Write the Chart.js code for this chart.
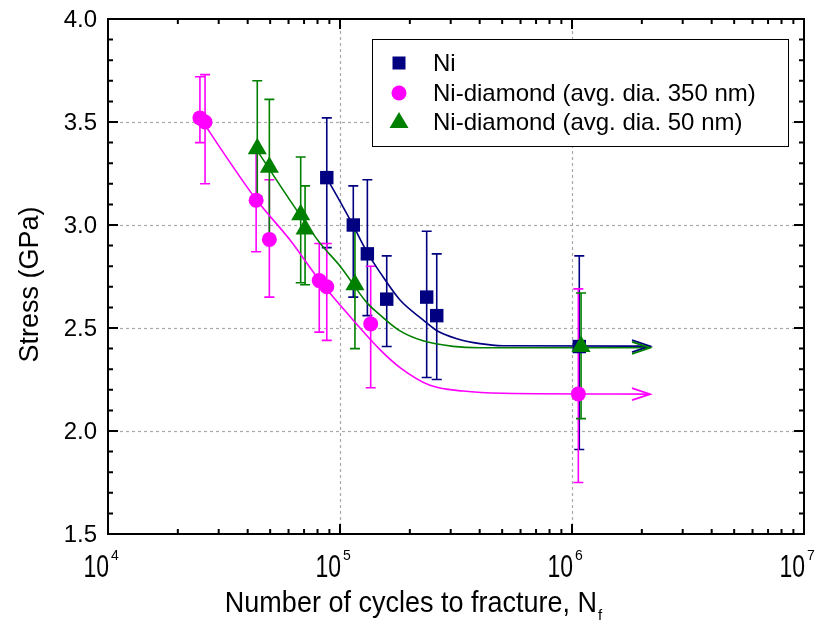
<!DOCTYPE html>
<html>
<head>
<meta charset="utf-8">
<script src="https://cdn.jsdelivr.net/npm/chart.js@4.4.0/dist/chart.umd.min.js"></script>
<style>
    body { margin: 0; background: #fff; }
    #wrap { width: 819px; height: 628px; }
</style>
</head>
<body>
<div id="wrap"><canvas id="fatigueChart" width="819" height="628"></canvas></div>
<script>
// Ni
const niCycles = [8.77e4, 1.141e5, 1.312e5, 1.590e5, 2.364e5, 2.612e5, 1.075e6];
const niStress = [3.23, 3.00, 2.86, 2.64, 2.65, 2.56, 2.41];
const niHigh   = [3.52, 3.19, 3.22, 2.85, 2.97, 2.86, 2.85];
const niLow    = [2.89, 2.65, 2.56, 2.41, 2.26, 2.25, 1.91];

// Ni-diamond 350 nm
const d350Cycles = [2.49e4, 2.62e4, 4.35e4, 4.96e4, 8.14e4, 8.77e4, 1.356e5, 1.065e6];
const d350Stress = [3.52, 3.50, 3.12, 2.93, 2.73, 2.70, 2.52, 2.18];
const d350High   = [3.72, 3.73, 3.35, 3.22, 2.91, 2.91, 2.80, 2.69];
const d350Low    = [3.40, 3.20, 2.87, 2.65, 2.48, 2.44, 2.21, 1.75];

// Ni-diamond 50 nm
const d50Cycles = [4.40e4, 4.96e4, 6.77e4, 7.07e4, 1.160e5, 1.094e6];
const d50Stress = [3.37, 3.28, 3.05, 2.98, 2.71, 2.41];
const d50High   = [3.70, 3.61, 3.33, 3.19, 3.00, 2.67];
const d50Low    = [3.14, 2.92, 2.72, 2.71, 2.40, 2.06];

// fitted curves
const niFitCycles  = [8.79e4, 1.0e5, 1.138e5, 1.308e5, 1.487e5, 1.814e5, 2.279e5, 2.645e5, 3.194e5, 4.012e5, 5.04e5, 2.169e6];
const niFitStress  = [3.226, 3.115, 2.999, 2.868, 2.770, 2.636, 2.540, 2.484, 2.448, 2.424, 2.414, 2.412];
const d350FitCycles = [2.543e4, 3.357e4, 4.345e4, 6.09e4, 8.20e4, 1.0e5, 1.487e5, 1.814e5, 2.443e5, 3.391e5, 5.04e5, 2.169e6];
const d350FitStress = [3.507, 3.304, 3.125, 2.927, 2.728, 2.612, 2.395, 2.308, 2.222, 2.194, 2.183, 2.179];
const d50FitCycles = [4.39e4, 5.97e4, 8.20e4, 1.0e5, 1.308e5, 1.487e5, 1.814e5, 2.279e5, 3.07e5, 4.012e5, 2.169e6];
const d50FitStress = [3.362, 3.134, 2.912, 2.801, 2.622, 2.564, 2.486, 2.438, 2.411, 2.404, 2.404];

// axis ticks
const xExponents = [4, 5, 6, 7];
const yTicks = [1.5, 2.0, 2.5, 3.0, 3.5, 4.0];

const NAVY = '#000080', MAGENTA = '#ff00ff', GREEN = '#008000';
const FONT = '"Liberation Sans", Arial, sans-serif';

function pts(xs, ys) {
    return xs.map((x, i) => ({ x: x, y: ys[i] }));
}

const errorSets = [
    { x: niCycles, lo: niLow, hi: niHigh, color: NAVY },
    { x: d350Cycles, lo: d350Low, hi: d350High, color: MAGENTA },
    { x: d50Cycles, lo: d50Low, hi: d50High, color: GREEN }
];

const legendItems = [
    { text: 'Ni', style: 'rect', color: NAVY },
    { text: 'Ni-diamond (avg. dia. 350 nm)', style: 'circle', color: MAGENTA },
    { text: 'Ni-diamond (avg. dia. 50 nm)', style: 'triangle', color: GREEN }
];

const framePlugin = {
    id: 'frame',
    beforeDatasetsDraw(chart) {
        const ctx = chart.ctx;
        const xs = chart.scales.x, ys = chart.scales.y;
        const a = chart.chartArea;
        ctx.save();
        // dashed grid
        ctx.strokeStyle = '#a8a8a8';
        ctx.lineWidth = 1.2;
        ctx.setLineDash([3, 3]);
        [1e5, 1e6].forEach(v => {
            const px = Math.round(xs.getPixelForValue(v)) + 0.5;
            ctx.beginPath(); ctx.moveTo(px, a.top); ctx.lineTo(px, a.bottom); ctx.stroke();
        });
        yTicks.slice(1, -1).forEach(v => {
            const py = Math.round(ys.getPixelForValue(v)) + 0.5;
            ctx.beginPath(); ctx.moveTo(a.left, py); ctx.lineTo(a.right, py); ctx.stroke();
        });
        ctx.setLineDash([]);
        // error bars
        errorSets.forEach(s => {
            ctx.strokeStyle = s.color;
            ctx.lineWidth = 1.6;
            s.x.forEach((v, i) => {
                const px = xs.getPixelForValue(v);
                const top = ys.getPixelForValue(s.hi[i]);
                const bot = ys.getPixelForValue(s.lo[i]);
                ctx.beginPath();
                ctx.moveTo(px, top); ctx.lineTo(px, bot);
                ctx.moveTo(px - 5, top); ctx.lineTo(px + 5, top);
                ctx.moveTo(px - 5, bot); ctx.lineTo(px + 5, bot);
                ctx.stroke();
            });
        });
        ctx.restore();
    },
    afterDatasetsDraw(chart) {
        const ctx = chart.ctx;
        const xs = chart.scales.x, ys = chart.scales.y;
        const a = chart.chartArea;
        ctx.save();

        // arrow heads at the end of fitted curves
        [0, 1, 2].forEach(i => {
            const meta = chart.getDatasetMeta(i);
            const last = meta.data[meta.data.length - 1];
            ctx.strokeStyle = chart.data.datasets[i].borderColor;
            ctx.lineWidth = 1.8;
            ctx.beginPath();
            ctx.moveTo(last.x - 18, last.y - 6);
            ctx.lineTo(last.x, last.y);
            ctx.lineTo(last.x - 18, last.y + 6);
            ctx.stroke();
        });

        // frame
        ctx.strokeStyle = '#000';
        ctx.lineWidth = 2;
        ctx.strokeRect(a.left, a.top, a.right - a.left, a.bottom - a.top);

        // ticks, inward on all sides
        ctx.lineWidth = 2;
        for (let d = 4; d <= 6; d++) {
            for (let k = 1; k <= 9; k++) {
                const v = k * Math.pow(10, d);
                if (k === 1 && d === 4) continue;
                const px = xs.getPixelForValue(v);
                const len = k === 1 ? 10 : 5;
                ctx.beginPath();
                ctx.moveTo(px, a.bottom); ctx.lineTo(px, a.bottom - len);
                ctx.moveTo(px, a.top); ctx.lineTo(px, a.top + len);
                ctx.stroke();
            }
        }
        for (let t = 16; t < 40; t++) {
            const py = ys.getPixelForValue(t / 10);
            const len = t % 5 === 0 ? 10 : 5;
            ctx.beginPath();
            ctx.moveTo(a.left, py); ctx.lineTo(a.left + len, py);
            ctx.moveTo(a.right, py); ctx.lineTo(a.right - len, py);
            ctx.stroke();
        }

        // tick labels
        ctx.fillStyle = '#000';
        ctx.font = '24px ' + FONT;
        ctx.textAlign = 'right';
        ctx.textBaseline = 'middle';
        yTicks.forEach(v => {
            ctx.fillText(v.toFixed(1), a.left - 11, ys.getPixelForValue(v) + 1);
        });
        ctx.textBaseline = 'alphabetic';
        xExponents.forEach(e => {
            const px = xs.getPixelForValue(Math.pow(10, e));
            ctx.save();
            ctx.translate(px + 1, 577);
            ctx.scale(1, 1.35);
            ctx.font = '23px ' + FONT;
            ctx.textAlign = 'right';
            ctx.fillText('10', 0, 0);
            ctx.restore();
            ctx.font = '14px ' + FONT;
            ctx.textAlign = 'left';
            ctx.fillText(String(e), px + 3, 560);
        });

        // axis titles
        ctx.font = '27px ' + FONT;
        const main = 'Number of cycles to fracture, N';
        const w = ctx.measureText(main).width;
        ctx.font = '15px ' + FONT;
        const ws = ctx.measureText('f').width;
        const cx = 413;
        const x0 = cx - (w + ws) / 2;
        ctx.textAlign = 'left';
        ctx.save();
        ctx.translate(x0, 612);
        ctx.scale(1, 1.12);
        ctx.font = '27px ' + FONT;
        ctx.fillText(main, 0, 0);
        ctx.restore();
        ctx.font = '15px ' + FONT;
        ctx.fillText('f', x0 + w + 1, 620);

        ctx.save();
        ctx.translate(38, (a.top + a.bottom) / 2 + 8);
        ctx.rotate(-Math.PI / 2);
        ctx.font = '27px ' + FONT;
        ctx.textAlign = 'center';
        ctx.fillText('Stress (GPa)', 0, 0);
        ctx.restore();

        // legend
        const lx = 372.5, ly = 39.5, lw = 416, lh = 107;
        ctx.fillStyle = '#fff';
        ctx.fillRect(lx, ly, lw, lh);
        ctx.strokeStyle = '#000';
        ctx.lineWidth = 1;
        ctx.strokeRect(lx, ly, lw, lh);
        const rows = [63, 93, 122];
        legendItems.forEach((it, i) => {
            const mx = 399, my = rows[i];
            ctx.fillStyle = it.color;
            ctx.beginPath();
            if (it.style === 'rect') {
                ctx.rect(mx - 6.5, my - 6.5, 13, 13);
            } else if (it.style === 'circle') {
                ctx.arc(mx, my, 7.5, 0, Math.PI * 2);
            } else {
                ctx.moveTo(mx, my - 10);
                ctx.lineTo(mx + 9.5, my + 6);
                ctx.lineTo(mx - 9.5, my + 6);
                ctx.closePath();
            }
            ctx.fill();
            ctx.fillStyle = '#000';
            ctx.font = '24px ' + FONT;
            ctx.textAlign = 'left';
            ctx.textBaseline = 'middle';
            ctx.fillText(it.text, 433, my + 1);
        });
        ctx.restore();
    }
};

const ctx = document.getElementById('fatigueChart').getContext('2d');
new Chart(ctx, {
    type: 'scatter',
    data: {
        datasets: [
            {
                label: 'Ni fit', data: pts(niFitCycles, niFitStress), showLine: true,
                borderColor: NAVY, borderWidth: 1.6, pointRadius: 0,
                cubicInterpolationMode: 'monotone', order: 5
            },
            {
                label: '350 nm fit', data: pts(d350FitCycles, d350FitStress), showLine: true,
                borderColor: MAGENTA, borderWidth: 1.6, pointRadius: 0,
                cubicInterpolationMode: 'monotone', order: 4
            },
            {
                label: '50 nm fit', data: pts(d50FitCycles, d50FitStress), showLine: true,
                borderColor: GREEN, borderWidth: 1.6, pointRadius: 0,
                cubicInterpolationMode: 'monotone', order: 3
            },
            {
                label: 'Ni', data: pts(niCycles, niStress), pointStyle: 'rect',
                pointRadius: 9.5, backgroundColor: NAVY, borderColor: NAVY, borderWidth: 0, order: 2
            },
            {
                label: 'Ni-diamond (avg. dia. 350 nm)', data: pts(d350Cycles, d350Stress), pointStyle: 'circle',
                pointRadius: 7.5, backgroundColor: MAGENTA, borderColor: MAGENTA, borderWidth: 0, order: 1
            },
            {
                label: 'Ni-diamond (avg. dia. 50 nm)', data: pts(d50Cycles, d50Stress), pointStyle: 'triangle',
                pointRadius: 11, backgroundColor: GREEN, borderColor: GREEN, borderWidth: 0, order: 0
            }
        ]
    },
    options: {
        responsive: false,
        animation: false,
        layout: { padding: { left: 108, top: 19, right: 15, bottom: 94 } },
        plugins: {
            legend: { display: false },
            tooltip: { enabled: false }
        },
        scales: {
            x: { type: 'logarithmic', min: 1e4, max: 1e7, display: false },
            y: { type: 'linear', min: 1.5, max: 4.0, display: false }
        }
    },
    plugins: [framePlugin]
});
</script>
</body>
</html>
